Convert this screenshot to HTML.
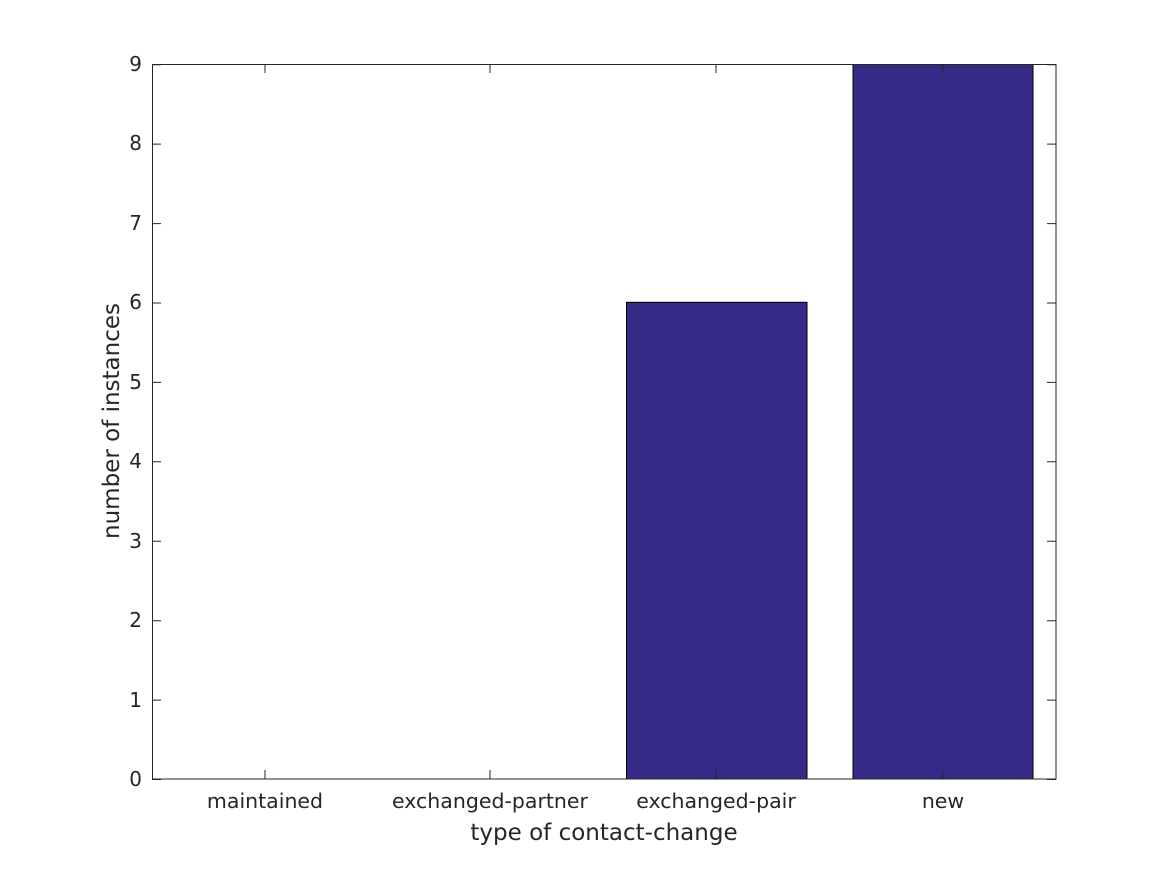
<!DOCTYPE html>
<html><head><style>
body{margin:0;background:#fff;}
svg text{font-family:"DejaVu Sans","Liberation Sans",sans-serif;fill:#262626;}
</style></head><body>
<svg width="1167" height="875" viewBox="0 0 1167 875" xmlns="http://www.w3.org/2000/svg">
<rect width="1167" height="875" fill="#fff"/>
<rect x="626.5" y="302.3" width="180.5" height="476.7" fill="#362a87" stroke="#000" stroke-width="1"/>
<rect x="853" y="64.5" width="180" height="714.5" fill="#362a87" stroke="#000" stroke-width="1"/>
<rect x="152.5" y="64.5" width="903.5" height="714.5" fill="none" stroke="#262626" stroke-width="1"/>
<g stroke="#262626" stroke-width="1">
<line x1="265" y1="779" x2="265" y2="770"/><line x1="490" y1="779" x2="490" y2="770"/>
<line x1="716" y1="779" x2="716" y2="770"/><line x1="943" y1="779" x2="943" y2="770"/>
<line x1="265" y1="64" x2="265" y2="73"/><line x1="490" y1="64" x2="490" y2="73"/>
<line x1="716" y1="64" x2="716" y2="73"/><line x1="943" y1="64" x2="943" y2="73"/>
</g>
<g stroke="#262626" stroke-width="1">
<path d="M152 779.5h9M152 700.1h9M152 620.7h9M152 541.2h9M152 461.8h9M152 382.4h9M152 303h9M152 223.6h9M152 144.1h9M152 64.7h9"/>
<path d="M1056 779.5h-9M1056 700.1h-9M1056 620.7h-9M1056 541.2h-9M1056 461.8h-9M1056 382.4h-9M1056 303h-9M1056 223.6h-9M1056 144.1h-9M1056 64.7h-9"/>
</g>
<g font-size="20" text-anchor="end">
<text x="142" y="786">0</text><text x="142" y="707">1</text><text x="142" y="627">2</text>
<text x="142" y="548">3</text><text x="142" y="468">4</text><text x="142" y="389">5</text>
<text x="142" y="309">6</text><text x="142" y="230">7</text><text x="142" y="150">8</text>
<text x="142" y="71">9</text>
</g>
<g font-size="20.5" text-anchor="middle">
<text x="265" y="808">maintained</text>
<text x="490" y="808">exchanged-partner</text>
<text x="716" y="808">exchanged-pair</text>
<text x="943" y="808">new</text>
</g>
<text x="604" y="840" font-size="23" text-anchor="middle">type of contact-change</text>
<text transform="translate(119,421) rotate(-90)" font-size="23" text-anchor="middle">number of instances</text>
</svg>
</body></html>
